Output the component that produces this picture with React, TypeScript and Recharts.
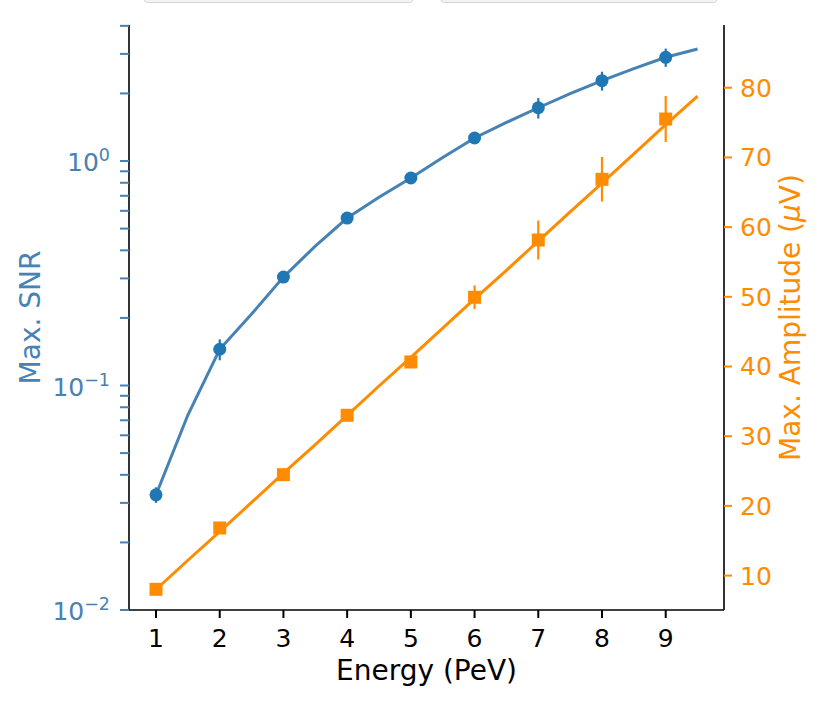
import { ComposedChart, Line, Scatter, ErrorBar, XAxis, YAxis, Label } from 'recharts';

// measured points (integer energies)
const energy = [1, 2, 3, 4, 5, 6, 7, 8, 9];
const snr = [0.0326, 0.145, 0.304, 0.557, 0.84, 1.266, 1.727, 2.279, 2.897];
const snrErr = [0.0026, 0.0155, 0.015, 0.025, 0.04, 0.07, 0.18, 0.22, 0.27];
const amp = [8.03, 16.83, 24.48, 33.0, 40.65, 49.93, 58.15, 66.86, 75.51];
const ampErr = [0.5, 0.6, 0.7, 0.8, 0.9, 1.7, 2.8, 3.2, 3.3];

// fitted curves, read every half PeV
const fitEnergy = [1, 1.5, 2, 2.5, 3, 3.5, 4, 4.5, 5, 5.5, 6, 6.5, 7, 7.5, 8, 8.5, 9, 9.5];
const snrFit = [0.0326, 0.0739, 0.145, 0.208, 0.304, 0.418, 0.557, 0.689, 0.84, 1.036, 1.266, 1.485, 1.727, 1.994, 2.279, 2.577, 2.897, 3.155];
const ampFit = [8.0, 12.2, 16.3, 20.5, 24.7, 28.8, 33.0, 37.2, 41.3, 45.5, 49.7, 53.8, 58.0, 62.2, 66.3, 70.5, 74.7, 78.8];

const xTicks = [1, 2, 3, 4, 5, 6, 7, 8, 9];
const snrTicks = [
  0.01, 0.02, 0.03, 0.04, 0.05, 0.06, 0.07, 0.08, 0.09,
  0.1, 0.2, 0.3, 0.4, 0.5, 0.6, 0.7, 0.8, 0.9,
  1, 2, 3, 4,
];
const ampTicks = [10, 20, 30, 40, 50, 60, 70, 80];

const fitRows = fitEnergy.map((e, i) => ({ e, snrFit: snrFit[i], ampFit: ampFit[i] }));
const pointRows = energy.map((e, i) => ({ e, snr: snr[i], snrErr: snrErr[i], amp: amp[i], ampErr: ampErr[i] }));

const BLUE = '#1f77b4';
const STEEL = '#4682b4';
const ORANGE = '#ff8c00';
const FONT = '"DejaVu Sans", sans-serif';

const LogTick = (props: any) => {
  const { x, y, payload } = props;
  const exp = Math.round(Math.log10(payload.value));
  if (Math.abs(payload.value - Math.pow(10, exp)) > 1e-9) return <g />;
  return (
    <text x={x} y={y + 10} textAnchor="end" fill={STEEL} fontSize={25} fontFamily={FONT}>
      10
      <tspan dy={-10} fontSize={17.5}>{exp === 0 ? '0' : '\u2212' + Math.abs(exp)}</tspan>
    </text>
  );
};

const XTick = (props: any) => (
  <text x={props.x} y={props.y} dy={24.7} textAnchor="middle" fill="#000" fontSize={25} fontFamily={FONT}>
    {props.payload.value}
  </text>
);

const AmpTick = (props: any) => (
  <text x={props.x} y={props.y} dy={9} textAnchor="start" fill={ORANGE} fontSize={25} fontFamily={FONT}>
    {props.payload.value}
  </text>
);

const Circle = (props: any) => <circle cx={props.cx} cy={props.cy} r={6.5} fill={BLUE} />;
const Square = (props: any) => <rect x={props.cx - 6.5} y={props.cy - 6.5} width={13} height={13} fill={ORANGE} />;

const Tab = ({ left, width }: { left: number; width: number }) => (
  <div
    style={{
      position: 'absolute',
      left,
      top: -10,
      width,
      height: 11,
      border: '1px solid #d4d4d4',
      borderRadius: 5,
      background: '#f3f3f3',
    }}
  />
);

export default function App() {
  return (
    <div style={{ position: 'absolute', left: 0, top: 0, width: 830, height: 703, background: '#fff', overflow: 'hidden' }}>
      <Tab left={143} width={269} />
      <Tab left={440} width={276} />
      <ComposedChart width={830} height={703} data={fitRows} margin={{ top: 25, right: 0, bottom: 0, left: 0 }}>
        <XAxis
          dataKey="e"
          type="number"
          domain={[0.576, 9.915]}
          allowDataOverflow
          ticks={xTicks}
          interval={0}
          height={93}
          tickSize={8}
          tickMargin={4}
          tick={<XTick />}
          axisLine={{ stroke: '#000', strokeWidth: 1.6 }}
          tickLine={{ stroke: '#000', strokeWidth: 2 }}
        >
          <Label
            content={(p: any) => (
              <text x={p.viewBox.x + p.viewBox.width / 2} y={p.viewBox.y + 70} textAnchor="middle" fontSize={28} fontFamily={FONT} fill="#000">
                Energy (PeV)
              </text>
            )}
          />
        </XAxis>
        <XAxis
          xAxisId="top"
          orientation="top"
          dataKey="e"
          type="number"
          domain={[0.576, 9.915]}
          allowDataOverflow
          height={0}
          tick={false}
          tickLine={false}
          axisLine={{ stroke: '#000', strokeWidth: 1.6 }}
        />
        <YAxis
          yAxisId="snr"
          orientation="left"
          type="number"
          scale="log"
          domain={[0.01, 4.035]}
          allowDataOverflow
          ticks={snrTicks}
          interval={0}
          width={129}
          tickSize={9}
          tickMargin={10}
          tick={<LogTick />}
          axisLine={{ stroke: '#000', strokeWidth: 1.6 }}
          tickLine={{ stroke: STEEL, strokeWidth: 2 }}
        >
          <Label
            content={(p: any) => {
              const cy = p.viewBox.y + p.viewBox.height / 2;
              return (
                <text x={40} y={cy} transform={`rotate(-90 40 ${cy})`} textAnchor="middle" fontSize={28} fontFamily={FONT} fill={STEEL}>
                  Max. SNR
                </text>
              );
            }}
          />
        </YAxis>
        <YAxis
          yAxisId="amp"
          orientation="right"
          type="number"
          domain={[5.06, 89.0]}
          allowDataOverflow
          ticks={ampTicks}
          interval={0}
          width={106}
          tickSize={8}
          tickMargin={8}
          tick={<AmpTick />}
          axisLine={{ stroke: '#000', strokeWidth: 1.6 }}
          tickLine={{ stroke: ORANGE, strokeWidth: 2 }}
        >
          <Label
            content={(p: any) => {
              const cy = p.viewBox.y + p.viewBox.height / 2;
              return (
                <text x={800} y={cy} transform={`rotate(-90 800 ${cy})`} textAnchor="middle" fontSize={28} fontFamily={FONT} fill={ORANGE}>
                  Max. Amplitude (<tspan fontStyle="italic">μ</tspan>V)
                </text>
              );
            }}
          />
        </YAxis>
        <Line
          yAxisId="snr"
          dataKey="snrFit"
          type="linear"
          stroke={STEEL}
          strokeWidth={3}
          dot={false}
          activeDot={false}
          isAnimationActive={false}
        />
        <Scatter yAxisId="snr" data={pointRows} dataKey="snr" shape={<Circle />} isAnimationActive={false}>
          <ErrorBar dataKey="snrErr" direction="y" width={0} stroke={BLUE} strokeWidth={2.2} />
        </Scatter>
        <Line
          yAxisId="amp"
          dataKey="ampFit"
          type="linear"
          stroke={ORANGE}
          strokeWidth={3}
          dot={false}
          activeDot={false}
          isAnimationActive={false}
        />
        <Scatter yAxisId="amp" data={pointRows} dataKey="amp" shape={<Square />} isAnimationActive={false}>
          <ErrorBar dataKey="ampErr" direction="y" width={0} stroke={ORANGE} strokeWidth={2.2} />
        </Scatter>
      </ComposedChart>
    </div>
  );
}
